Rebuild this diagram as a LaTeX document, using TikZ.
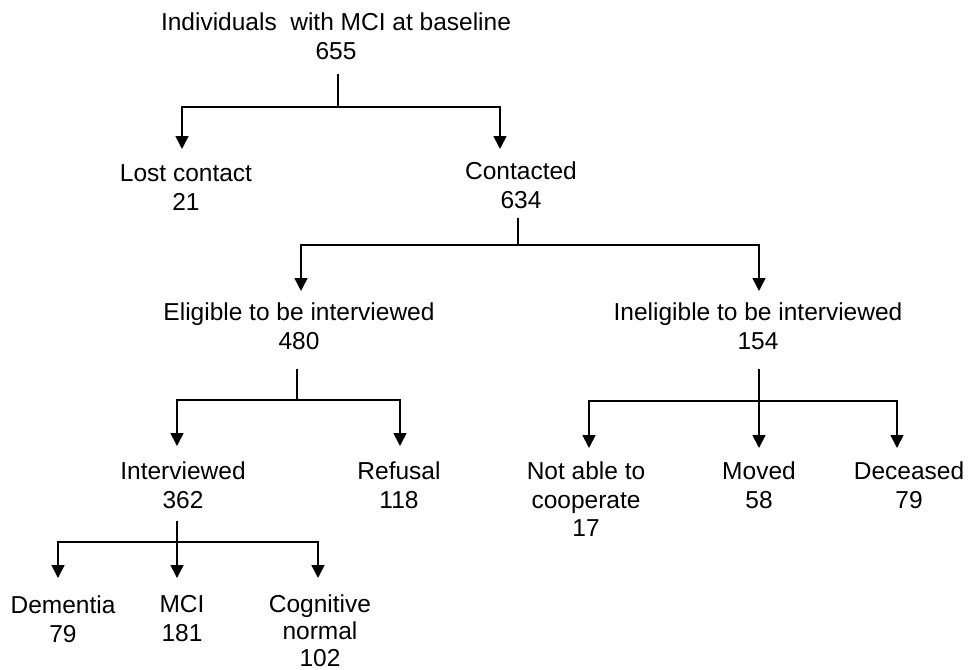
\documentclass[tikz,border=0pt]{standalone}
\usepackage{fontspec}
\setmainfont{Liberation Sans}
\usetikzlibrary{arrows.meta}
\begin{document}
\begin{tikzpicture}[x=1pt,y=1pt,
  lbl/.style={anchor=north,align=center,inner sep=0pt,font=\fontsize{24.5}{28.7}\selectfont},
  ln/.style={line width=1.7pt,black},
  arr/.style={ln,-{Triangle[width=13pt,length=13pt]}}]
\useasboundingbox (0,0) rectangle (968,-669);
% nodes (north = top of first line)
\node[lbl] (top)  at (336,-12.5) {Individuals\ \ with MCI at baseline\\655};
\node[lbl] (lost) at (186,-164.5) {Lost contact\\21};
\node[lbl] (cont) at (521,-161.5) {Contacted\\634};
\node[lbl] (elig) at (299,-302.5) {Eligible to be interviewed\\480};
\node[lbl] (inel) at (758,-302.5) {Ineligible to be interviewed\\154};
\node[lbl] (intv) at (183,-461.5) {Interviewed\\362};
\node[lbl] (ref)  at (399,-461.5) {Refusal\\118};
\node[lbl] (nab)  at (586,-461.5) {Not able to\\cooperate\\17};
\node[lbl] (mov)  at (759,-461.5) {Moved\\58};
\node[lbl] (dec)  at (909,-461.5) {Deceased\\79};
\node[lbl] (dem)  at (63,-595.5) {Dementia\\79};
\node[lbl] (mci)  at (182,-595.5) {MCI\\181};
\node[lbl,font=\fontsize{24.5}{26.8}\selectfont] (cog)  at (320,-594.5) {Cognitive\\normal\\102};
% junction points and arrow ends
\coordinate (j0) at (338,-107);
\coordinate (tLost) at (182,-149);
\coordinate (tCont) at (500,-149);
\coordinate (j1) at (518,-245);
\coordinate (tElig) at (301,-291);
\coordinate (tInel) at (759,-291);
\coordinate (j2) at (297,-400);
\coordinate (tIntv) at (177,-446);
\coordinate (tRef) at (400,-446);
\coordinate (j3) at (759,-401);
\coordinate (tNab) at (589,-448);
\coordinate (tMov) at (759,-448);
\coordinate (tDec) at (897,-448);
\coordinate (j4) at (177,-542);
\coordinate (tDem) at (58,-578);
\coordinate (tMci) at (177,-578);
\coordinate (tCog) at (318,-578);
% connectors
\draw[ln] ([xshift=2,yshift=-14]top.south) -- (j0);
\draw[arr] (j0) -| (tLost);
\draw[arr] (j0) -| (tCont);
\draw[ln] ([xshift=-3,yshift=-9]cont.south) -- (j1);
\draw[arr] (j1) -| (tElig);
\draw[arr] (j1) -| (tInel);
\draw[ln] ([xshift=-2,yshift=-19]elig.south) -- (j2);
\draw[arr] (j2) -| (tIntv);
\draw[arr] (j2) -| (tRef);
\draw[ln] ([xshift=1,yshift=-19]inel.south) -- (j3);
\draw[arr] (j3) -| (tNab);
\draw[arr] (j3) -- (tMov);
\draw[arr] (j3) -| (tDec);
\draw[ln] ([xshift=-6,yshift=-12]intv.south) -- (j4);
\draw[arr] (j4) -| (tDem);
\draw[arr] (j4) -- (tMci);
\draw[arr] (j4) -| (tCog);
\end{tikzpicture}
\end{document}
